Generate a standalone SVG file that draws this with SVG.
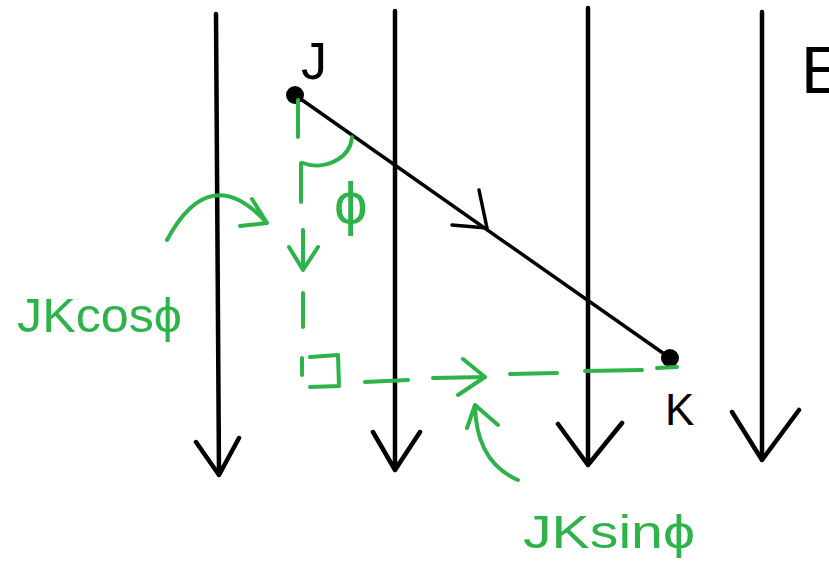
<svg xmlns="http://www.w3.org/2000/svg" width="829" height="574" viewBox="0 0 829 574">
<style>
.field{stroke:#000;stroke-width:4.5;fill:none;stroke-linecap:round;stroke-linejoin:round}
.seg{stroke:#000;stroke-width:3.5;fill:none;stroke-linecap:round;stroke-linejoin:round}
.g{stroke:#2eb34a;stroke-width:4;fill:none;stroke-linecap:round;stroke-linejoin:round}
.lblk{font-family:"Liberation Sans",Arial,sans-serif;fill:#000}
.lblg{font-family:"Liberation Sans",Arial,sans-serif;fill:#2eb34a}
</style>
<rect width="829" height="574" fill="#fff"/>
<g id="field-lines">
  <path class="field" d="M216,14 L219,475 M196,442 L219,475 L239,438"/>
  <path class="field" d="M395,11 L395,470 M373,432 L395,470 L420,432"/>
  <path class="field" d="M588,8 L588,465 M558,424 L588,465 L622,423"/>
  <path class="field" d="M762,12 L762,460 M732,412 L762,460 L799,410"/>
</g>
<g id="label-E"><text class="lblk" x="801" y="93" font-size="66">E</text></g>
<g id="node-J">
  <circle cx="295" cy="95" r="9" fill="#000"/>
  <text class="lblk" x="301" y="79" font-size="52">J</text>
</g>
<g id="node-K">
  <circle cx="670" cy="358" r="9" fill="#000"/>
  <text class="lblk" x="665" y="425" font-size="44">K</text>
</g>
<g id="connectors">
  <path class="seg" d="M295,95 L670,358"/>
  <path class="seg" d="M452,225 L487,228 L479,190"/>
  <g id="components">
    <path class="g" d="M298,100 L298,137 M301,163 L301,202 M303,230 L303,270 M289,247 L303,270 L318,247 M303,293 L303,327 M302,358 L302,375"/>
    <path class="g" d="M310,357 L338,355 L339,386 L310,387"/>
    <path class="g" d="M365,382 L408,380 M433,378 L485,377 M463,359 L485,377 L458,395 M510,374 L557,373 M585,371 L642,370 M657,368 L677,367"/>
    <path class="g" d="M303,163 C322,171 350,160 352,137"/>
    <path class="g" d="M167,240 Q210,160 267,223 M252,199 L267,223 L240,226"/>
    <path class="g" d="M518,480 Q476,462 475,405 M467,428 L475,405 L498,425"/>
  </g>
</g>
<g id="label-phi"><text class="lblg" x="334" y="224" font-size="60">ϕ</text></g>
<g id="label-cos"><text class="lblg" x="17" y="332" font-size="48" textLength="165" lengthAdjust="spacingAndGlyphs">JKcosϕ</text></g>
<g id="label-sin"><text class="lblg" x="523" y="548" font-size="46" textLength="172" lengthAdjust="spacingAndGlyphs">JKsinϕ</text></g>
</svg>
